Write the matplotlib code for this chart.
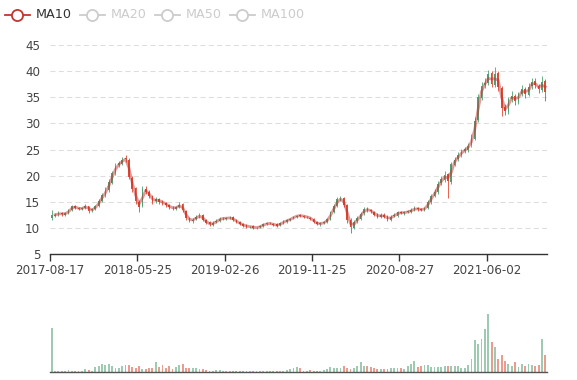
import matplotlib
matplotlib.use('Agg')
import matplotlib.pyplot as plt
import numpy as np
import pandas as pd

# price candles, each one ~ a week and a half of trading
opens = [12.0, 12.4, 12.7, 12.9, 12.6, 12.9, 13.5, 14.2, 13.9, 13.6,
         13.8, 14.2, 13.4, 13.7, 14.3, 15.1, 16.4, 17.3, 18.7, 20.5,
         22.0, 22.3, 23.4, 23.1, 19.6, 17.6, 15.0, 14.2, 17.5, 16.9,
         16.1, 15.1, 15.5, 15.1, 14.8, 14.5, 13.9, 13.7, 14.1, 14.6,
         13.3, 12.0, 11.4, 11.7, 12.3, 12.5, 11.5, 11.1, 10.6, 11.1,
         11.3, 11.9, 11.8, 11.9, 12.1, 11.5, 11.2, 10.7, 10.6, 10.2,
         10.4, 10.0, 10.2, 10.5, 10.8, 11.0, 10.8, 10.7, 10.6, 11.0,
         11.2, 11.6, 11.9, 12.1, 12.5, 12.3, 12.2, 12.0, 11.7, 11.2,
         10.7, 10.9, 11.2, 11.6, 13.1, 14.2, 15.4, 15.7, 14.4, 11.6,
         10.1, 11.3, 11.8, 12.8, 13.7, 13.4, 13.1, 12.7, 12.1, 12.6,
         12.3, 11.6, 12.3, 12.4, 13.1, 12.8, 13.1, 13.1, 13.5, 13.9,
         13.6, 13.4, 13.9, 14.9, 16.2, 16.9, 18.6, 19.2, 20.3, 18.8,
         22.1, 23.2, 23.9, 24.7, 25.0, 25.8, 27.1, 30.7, 34.8, 37.3,
         37.7, 39.6, 37.4, 39.6, 36.8, 33.2, 32.2, 34.7, 35.3, 34.1,
         35.7, 36.5, 35.5, 37.1, 38.2, 37.1, 36.4, 38.2]
closes = [12.5, 12.6, 12.8, 12.7, 12.8, 13.4, 14.2, 13.9, 13.7, 13.8,
          14.3, 13.3, 13.6, 14.2, 15.2, 16.3, 17.2, 18.8, 20.6, 21.9,
          22.4, 23.1, 23.3, 19.8, 17.5, 15.2, 14.0, 17.4, 17.0, 16.2,
          15.0, 15.6, 15.0, 14.9, 14.4, 14.0, 13.8, 14.0, 14.5, 13.4,
          11.9, 11.5, 11.6, 12.2, 12.4, 11.6, 11.0, 10.7, 11.0, 11.4,
          11.8, 11.9, 11.9, 12.0, 11.6, 11.1, 10.8, 10.5, 10.3, 10.3,
          10.1, 10.1, 10.4, 10.7, 10.9, 10.9, 10.6, 10.5, 10.9, 11.3,
          11.5, 11.8, 12.2, 12.4, 12.4, 12.2, 12.1, 11.8, 11.1, 10.8,
          10.9, 11.1, 11.7, 13.0, 14.3, 15.5, 15.6, 14.5, 11.5, 10.2,
          11.2, 11.9, 12.7, 13.6, 13.5, 13.2, 12.6, 12.2, 12.5, 12.2,
          11.7, 12.2, 12.5, 13.0, 12.9, 13.0, 13.2, 13.4, 13.8, 13.6,
          13.5, 13.8, 15.0, 16.1, 17.0, 18.5, 19.3, 20.2, 19.0, 22.3,
          23.0, 24.0, 24.6, 25.1, 25.7, 27.3, 30.5, 35.0, 37.2, 37.8,
          39.4, 37.6, 39.5, 37.0, 33.0, 32.4, 34.6, 35.2, 34.3, 35.6,
          36.6, 35.6, 37.0, 38.0, 37.3, 36.6, 38.0, 36.0]
highs = [13.5, 12.9, 13.2, 13.1, 13.0, 13.7, 14.5, 14.4, 14.1, 14.1,
         14.6, 14.3, 13.9, 14.5, 15.6, 16.8, 17.8, 19.3, 21.0, 22.4,
         22.9, 23.6, 24.0, 23.4, 20.0, 17.9, 15.3, 18.1, 18.0, 17.3,
         16.4, 16.0, 15.8, 15.4, 15.0, 14.7, 14.2, 14.3, 14.9, 14.8,
         13.5, 12.2, 12.0, 12.6, 12.8, 12.7, 11.7, 11.3, 11.3, 11.7,
         12.1, 12.2, 12.2, 12.3, 12.3, 11.7, 11.4, 10.9, 10.8, 10.5,
         10.6, 10.3, 10.6, 10.9, 11.1, 11.2, 11.0, 10.9, 11.1, 11.5,
         11.7, 12.0, 12.4, 12.6, 12.7, 12.5, 12.4, 12.2, 11.9, 11.4,
         11.1, 11.3, 11.9, 13.3, 14.6, 15.9, 16.1, 15.9, 14.6, 11.9,
         11.5, 12.3, 13.1, 14.0, 14.0, 13.7, 13.3, 12.9, 12.8, 12.8,
         12.5, 12.5, 12.8, 13.3, 13.3, 13.3, 13.5, 13.8, 14.3, 14.1,
         13.9, 14.1, 15.4, 16.5, 17.5, 19.0, 19.9, 21.0, 20.6, 22.7,
         23.5, 24.5, 25.1, 25.6, 26.3, 28.0, 31.2, 35.7, 37.9, 38.6,
         40.3, 40.0, 40.7, 40.0, 37.2, 33.8, 35.1, 36.2, 35.7, 36.1,
         37.3, 36.9, 37.8, 38.6, 38.7, 37.5, 39.0, 38.5]
lows = [11.6, 12.2, 12.4, 12.4, 12.4, 12.7, 13.3, 13.6, 13.4, 13.4,
        13.6, 12.8, 13.1, 13.5, 14.1, 14.9, 16.0, 17.0, 18.4, 20.2,
        21.6, 22.0, 22.7, 19.4, 16.9, 14.6, 13.0, 14.0, 16.5, 15.8,
        14.6, 14.8, 14.7, 14.5, 14.1, 13.7, 13.5, 13.5, 13.9, 13.0,
        11.5, 11.1, 11.0, 11.5, 12.0, 11.3, 10.7, 10.4, 10.4, 10.9,
        11.1, 11.6, 11.6, 11.7, 11.3, 10.9, 10.6, 10.3, 10.1, 10.0,
        9.9, 9.8, 10.0, 10.3, 10.6, 10.7, 10.4, 10.3, 10.4, 10.8,
        11.0, 11.4, 11.7, 11.9, 12.2, 12.0, 11.9, 11.6, 10.9, 10.6,
        10.5, 10.7, 11.0, 11.5, 12.9, 14.0, 15.1, 14.1, 11.0, 9.0,
        9.8, 11.0, 11.6, 12.6, 13.1, 12.9, 12.3, 11.9, 11.9, 11.9,
        11.3, 11.4, 12.1, 12.2, 12.7, 12.6, 12.9, 12.9, 13.3, 13.3,
        13.2, 13.2, 13.7, 14.7, 15.9, 16.6, 18.2, 18.8, 15.7, 18.5,
        21.8, 22.9, 23.5, 24.3, 24.6, 25.5, 26.8, 30.3, 34.4, 36.8,
        37.3, 37.0, 37.0, 36.3, 31.5, 31.6, 31.9, 34.2, 33.6, 33.8,
        35.2, 34.9, 35.2, 36.6, 36.8, 35.9, 36.1, 34.3]
# volume, in % of the tallest bar
volume = [76, 2, 2, 3, 2, 4, 3, 2, 3, 3,
          5, 4, 3, 9, 11, 14, 12, 15, 10, 8,
          7, 11, 13, 12, 9, 8, 10, 6, 5, 7,
          8, 17, 9, 13, 8, 10, 6, 9, 12, 15,
          8, 7, 8, 7, 6, 5, 4, 3, 3, 4,
          4, 3, 3, 3, 2, 3, 2, 3, 2, 3,
          2, 2, 3, 2, 2, 3, 2, 2, 3, 3,
          4, 5, 8, 9, 7, 3, 3, 4, 3, 3,
          3, 4, 5, 9, 7, 8, 8, 10, 8, 6,
          8, 10, 18, 10, 11, 9, 8, 5, 5, 6,
          6, 7, 8, 7, 7, 6, 11, 14, 20, 9,
          11, 12, 13, 9, 9, 9, 9, 10, 11, 10,
          11, 11, 8, 7, 13, 23, 55, 49, 57, 75,
          100, 52, 43, 23, 29, 20, 14, 11, 17, 9,
          14, 11, 14, 13, 11, 13, 57, 30]
tick_pos = [0, 26, 52, 78, 104, 130]
tick_labels = ['2017-08-17', '2018-05-25', '2019-02-26',
               '2019-11-25', '2020-08-27', '2021-06-02']
legend_names = ['MA10', 'MA20', 'MA50', 'MA100']

UP, DOWN = '#4f9f74', '#de4b33'
MA_COL = '#c23531'
TXT = '#444444'

o = np.array(opens); c = np.array(closes)
h = np.array(highs); l = np.array(lows)
x = np.arange(len(c))
cols = [UP if cc >= oo else DOWN for oo, cc in zip(o, c)]
ma10 = pd.Series(c).rolling(2, min_periods=2).mean()   # one candle ~ 7 trading days

fig = plt.figure(figsize=(5.77, 3.80), dpi=100)

ax = fig.add_axes([50 / 577, 1 - 254.3 / 380, 497 / 577, 209.3 / 380])
ax.vlines(x, l, h, colors=cols, lw=0.6, zorder=2)
ax.bar(x, np.maximum(np.abs(c - o), 0.08), bottom=np.minimum(o, c),
       width=0.5, color=cols, lw=0, zorder=3)
ax.plot(x, ma10, color=MA_COL, lw=2.0, alpha=0.5, zorder=4)
ax.set_xlim(-0.5, len(c) - 0.5)
ax.set_ylim(5, 45)
ax.set_yticks(range(5, 46, 5))
ax.set_xticks([p - 0.5 for p in tick_pos])
ax.set_xticklabels(tick_labels)
ax.yaxis.grid(True, color='#dddddd', lw=0.75, dashes=(4.8, 3.2))
ax.set_axisbelow(True)
for s in ('top', 'right', 'left'):
    ax.spines[s].set_visible(False)
ax.spines['bottom'].set_color('#333333')
ax.spines['bottom'].set_linewidth(1.0)
ax.tick_params(axis='x', length=5, width=1, color='#333333', colors=TXT,
               labelsize=8.6, pad=2)
ax.tick_params(axis='y', length=0, colors=TXT, labelsize=8.6, pad=7)

# volume panel
av = fig.add_axes([50 / 577, 1 - 372.3 / 380, 497 / 577, 58.3 / 380])
av.bar(x, volume, width=0.55, color=cols, alpha=0.55, lw=0)
av.set_xlim(-0.5, len(c) - 0.5)
av.set_ylim(0, 100)
av.set_xticks([]); av.set_yticks([])
for s in ('top', 'right', 'left'):
    av.spines[s].set_visible(False)
av.spines['bottom'].set_color('#555555')
av.spines['bottom'].set_linewidth(1.0)

# legend drawn in pixel coords, like the echarts one (only MA10 switched on)
lg = fig.add_axes([0, 0, 1, 1], zorder=10)
lg.set_xlim(0, 577); lg.set_ylim(380, 0); lg.axis('off')
for k, name in enumerate(legend_names):
    x0 = 5 + 75 * k
    col = MA_COL if k == 0 else '#cccccc'
    lg.plot([x0, x0 + 25], [15, 15], color=col, lw=1.3)
    lg.plot([x0 + 12], [15], marker='o', ms=8, mfc='white', mec=col, mew=1.3)
    lg.text(x0 + 31, 15, name, va='center', ha='left', fontsize=9.2,
            color='#333333' if k == 0 else '#cccccc')

fig.savefig('out.png', dpi=100)
